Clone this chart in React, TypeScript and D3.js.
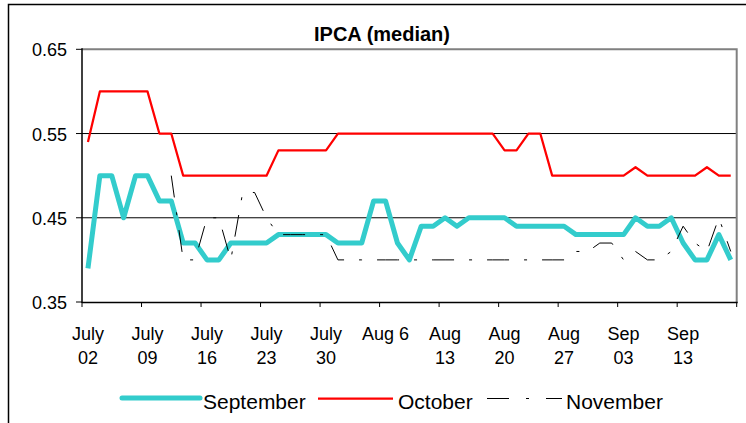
import { line, scaleLinear, scalePoint } from "d3";

// business days, one label every 5th day
const tickLabels = [
  ["July", "02"], ["July", "09"], ["July", "16"], ["July", "23"], ["July", "30"],
  ["Aug 6", ""], ["Aug", "13"], ["Aug", "20"], ["Aug", "27"], ["Sep", "03"], ["Sep", "13"],
];
const yTicks = [0.35, 0.45, 0.55, 0.65];

const september = [
  0.39, 0.5, 0.5, 0.45, 0.5, 0.5, 0.47, 0.47, 0.42, 0.42, 0.4, 0.4, 0.42, 0.42, 0.42, 0.42,
  0.43, 0.43, 0.43, 0.43, 0.43, 0.42, 0.42, 0.42, 0.47, 0.47, 0.42, 0.4, 0.44, 0.44, 0.45, 0.44,
  0.45, 0.45, 0.45, 0.45, 0.44, 0.44, 0.44, 0.44, 0.44, 0.43, 0.43, 0.43, 0.43, 0.43, 0.45, 0.44,
  0.44, 0.45, 0.42, 0.4, 0.4, 0.43, 0.4,
];
const october = [
  0.54, 0.6, 0.6, 0.6, 0.6, 0.6, 0.55, 0.55, 0.5, 0.5, 0.5, 0.5, 0.5, 0.5, 0.5, 0.5,
  0.53, 0.53, 0.53, 0.53, 0.53, 0.55, 0.55, 0.55, 0.55, 0.55, 0.55, 0.55, 0.55, 0.55, 0.55, 0.55,
  0.55, 0.55, 0.55, 0.53, 0.53, 0.55, 0.55, 0.5, 0.5, 0.5, 0.5, 0.5, 0.5, 0.5, 0.51, 0.5,
  0.5, 0.5, 0.5, 0.5, 0.51, 0.5, 0.5,
];
const november: (number | null)[] = [
  null, null, null, null, null, null, null, 0.5, 0.4, 0.4, 0.45, 0.45, 0.4, 0.48, 0.48, 0.45,
  0.43, 0.43, 0.43, 0.43, 0.43, 0.4, 0.4, 0.4, 0.4, 0.4, 0.4, 0.4, 0.4, 0.4, 0.4, 0.4,
  0.4, 0.4, 0.4, 0.4, 0.4, 0.4, 0.4, 0.4, 0.4, 0.41, 0.41, 0.42, 0.42, 0.4, 0.41, 0.4,
  0.4, 0.41, 0.44, 0.42, 0.41, 0.45, 0.41,
];

const W = 746;
const H = 423;
const left = 82;
const right = 736.7;
const top = 49.3;
const bottom = 302;
const font = "'Liberation Sans', Arial, sans-serif";
const TEAL = "#33CCCC";
const RED = "#FF0000";

export default function App() {
  const idx = september.map((_, i) => i);
  const x = scalePoint<number>().domain(idx).range([left, right]).padding(0.5);
  const y = scaleLinear().domain([0.35, 0.65]).range([bottom, top]);
  const step = x.step();

  const mk = line<number | null>()
    .defined((d) => d != null)
    .x((_, i) => x(i) as number)
    .y((d) => y(d as number));

  const boundaries = tickLabels.map((_, k) => left + k * 5 * step).concat([left + 55 * step]);

  return (
    <div style={{ position: "absolute", left: 0, top: 0 }}>
      <svg width={W} height={H} style={{ display: "block", background: "#fff" }}>
        <rect x={8.5} y={4.5} width={900} height={600} fill="#fff" stroke="#000" strokeWidth={1.5} />
        <text x={382} y={41} textAnchor="middle" fontFamily={font} fontWeight="bold" fontSize={20}>
          IPCA (median)
        </text>

        {/* gridlines */}
        {[0.45, 0.55].map((v) => (
          <line key={v} x1={left} x2={right} y1={y(v)} y2={y(v)} stroke="#000" strokeWidth={1} />
        ))}
        {/* plot frame (top/right gray) */}
        <path d={`M${left},${top}H${right}V${bottom}`} fill="none" stroke="#808080" strokeWidth={2} />

        {/* series */}
        <path d={mk(september) ?? ""} fill="none" stroke={TEAL} strokeWidth={5} strokeLinejoin="round" />
        <path d={mk(october) ?? ""} fill="none" stroke={RED} strokeWidth={2.25} strokeLinejoin="round" />
        <path d={mk(november) ?? ""} fill="none" stroke="#000" strokeWidth={1} strokeDasharray="22 15 3 15" />

        {/* axes */}
        <line x1={left} x2={left} y1={top - 1} y2={bottom + 1} stroke="#000" strokeWidth={1.5} />
        <line x1={left} x2={right + 1} y1={bottom + 0.5} y2={bottom + 0.5} stroke="#000" strokeWidth={1.5} />
        {yTicks.map((v) => (
          <g key={v}>
            <line x1={left - 6} x2={left} y1={y(v)} y2={y(v)} stroke="#000" strokeWidth={1} />
            <text x={67} y={y(v) + 7} textAnchor="end" fontFamily={font} fontSize={18}>
              {v.toFixed(2)}
            </text>
          </g>
        ))}
        {boundaries.map((bx, k) => (
          <line key={k} x1={bx} x2={bx} y1={bottom} y2={bottom + 5} stroke="#000" strokeWidth={1} />
        ))}
        {tickLabels.map(([a, b], k) => {
          const cx = x(k * 5) as number;
          return (
            <text key={k} textAnchor="middle" fontFamily={font} fontSize={18}>
              <tspan x={cx} y={340}>{a}</tspan>
              {b && <tspan x={cx} y={364}>{b}</tspan>}
            </text>
          );
        })}

        {/* legend */}
        <line x1={122} x2={200} y1={398} y2={398} stroke={TEAL} strokeWidth={5} strokeLinecap="round" />
        <text x={203} y={409} fontFamily={font} fontSize={21}>September</text>
        <line x1={318} x2={393} y1={398.5} y2={398.5} stroke={RED} strokeWidth={2.25} />
        <text x={398} y={409} fontFamily={font} fontSize={21}>October</text>
        <line x1={487} x2={562} y1={398.5} y2={398.5} stroke="#000" strokeWidth={1} strokeDasharray="22 17 3 17" />
        <text x={566} y={409} fontFamily={font} fontSize={21}>November</text>
      </svg>
    </div>
  );
}
